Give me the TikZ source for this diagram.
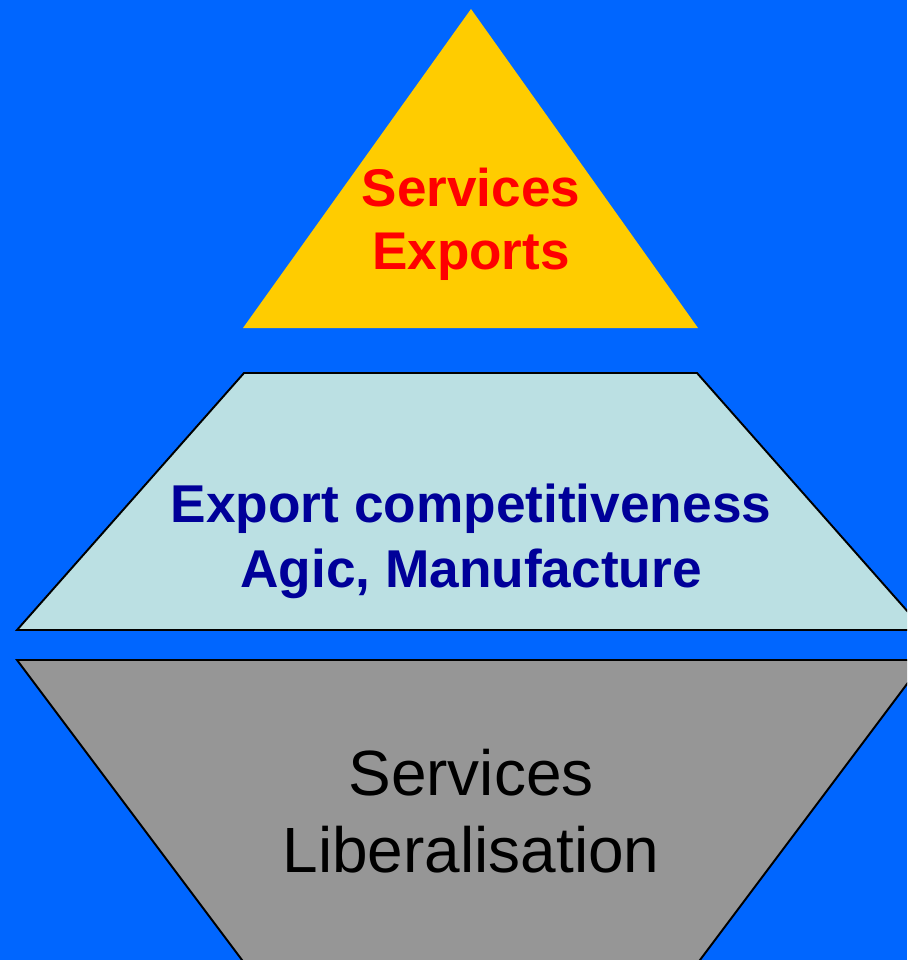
\documentclass[tikz,border=0pt]{standalone}
\usepackage{fontspec}
\setmainfont{Liberation Sans}
\usetikzlibrary{backgrounds}

\definecolor{slideblue}{HTML}{0066FF}
\definecolor{topgold}{HTML}{FFCC00}
\definecolor{midcyan}{HTML}{BBE0E3}
\definecolor{basegrey}{HTML}{969696}
\definecolor{navytext}{HTML}{000099}

\begin{document}
\begin{tikzpicture}[x=0.02cm,y=-0.02cm]
\useasboundingbox (0,0) rectangle (907,960);
\fill[slideblue] (0,0) rectangle (907,960);
\clip (0,0) rectangle (907,960);

\begin{scope}
\tikzstyle{every node}=[inner sep=0pt, anchor=base];

% top of the pyramid
\fill[topgold] (471,9) -- (698,328) -- (243,328) -- cycle;
\draw (471,206) node[text=red, font=\fontsize{30.2}{36}\bfseries] (exp1) {Services};
\draw (471,269) node[text=red, font=\fontsize{30.2}{36}\bfseries] (exp2) {Exports};

% middle layer
\draw[line width=1.1pt, fill=midcyan] (244,373) -- (697,373) -- (924,630) -- (17,630) -- cycle;
\draw (471,522) node[text=navytext, font=\fontsize{30.3}{36}\bfseries] (comp1) {Export competitiveness};
\draw (471,587) node[text=navytext, font=\fontsize{30.3}{36}\bfseries] (comp2) {Agic, Manufacture};

% base, upside down
\draw[line width=1.1pt, fill=basegrey] (17,660) -- (925,660) -- (700,960) -- (739,1012) -- (190,1012) -- (242,960) -- cycle;
\draw (471,795) node[font=\fontsize{36.4}{42}\selectfont] (lib1) {Services};
\draw (471,872) node[font=\fontsize{36.4}{42}\selectfont] (lib2) {Liberalisation};
\end{scope}
\end{tikzpicture}
\end{document}
